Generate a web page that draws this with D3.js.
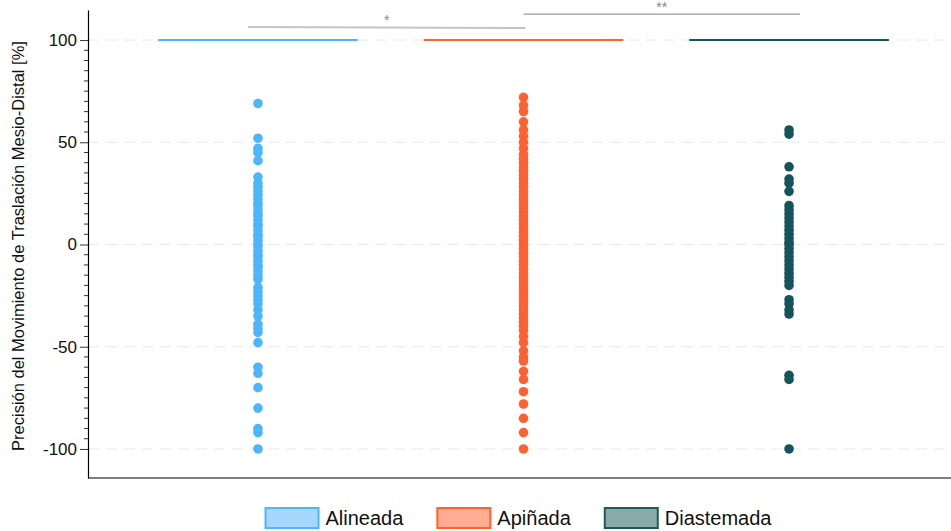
<!DOCTYPE html>
<html>
<head>
<meta charset="utf-8">
<script src="https://cdn.jsdelivr.net/npm/d3@7"></script>
<style>
  html, body { margin: 0; padding: 0; background: #ffffff; }
  svg { display: block; font-family: "Liberation Sans", Arial, Helvetica, sans-serif; }
</style>
</head>
<body>
<svg id="chart" width="951" height="531"></svg>
<script>
// Groups and their colours
const groups = ["Alineada", "Apiñada", "Diastemada"];
const pointColors = ["#4db6fa", "#ff6131", "#15545b"];
const legendFills = ["#a6d7fc", "#ffac92", "#88aaa9"];

// Precision of the mesio-distal translation per tooth [%]
const alineada = [69, 52, 47, 45, 41, 33, 30, 28, 26, 24, 22, 20, 19, 17, 15, 14, 12, 10, 9, 7, 5, 4, 2, 0,
  -1, -3, -5, -6, -8, -10, -11, -13, -15, -17, -21, -23, -25, -27, -29, -32, -35, -39, -41, -43,
  -48, -60, -63, -70, -80, -90, -92, -100];
const apinada = [72, 68, 65, 60, 56, 53, 50, 47, 44, 42, 40, 38, 36, 34, 32, 30, 28, 26, 24, 22, 20, 18,
  16, 14, 12, 10, 8, 6, 4, 2, 0, -2, -4, -6, -8, -10, -12, -14, -16, -18, -20, -22, -24, -26, -28,
  -30, -32, -34, -36, -38, -40, -42, -45, -48, -52, -55, -57, -62, -66, -72, -78, -85, -92, -100];
const diastemada = [56, 54, 38, 32, 30, 26, 19, 17, 15, 13, 11, 9, 7, 5, 3, 1, 0, -2, -4, -6, -8, -10,
  -12, -14, -16, -18, -20, -27, -29, -32, -34, -64, -66, -100];
const seriesValues = [alineada, apinada, diastemada];

// Reference level drawn as a horizontal bar per group
const refLevel = [100, 100, 100];

// Pairwise comparisons: from group, to group, height, label
const compFrom = ["Alineada", "Apiñada"];
const compTo = ["Apiñada", "Diastemada"];
const compY = [106.4, 112.7];
const compLabels = ["*", "**"];

// Y axis ticks
const majorTicks = [-100, -50, 0, 50, 100];
const tickLabels = ["-100", "-50", "0", "50", "100"];
const minorTicks = d3.range(-100, 101, 5).filter(v => v % 50 !== 0);
const axisTitle = "Precisión del Movimiento de Traslación Mesio-Distal [%]";

const svg = d3.select("#chart");
const panel = { left: 88, right: 951, top: 10, bottom: 478 };

const x = d3.scalePoint()
  .domain(groups)
  .range([92, 955])
  .padding(0.625);
const step = x.step();

const y = d3.scaleLinear()
  .domain([-114.2, 114.7])
  .range([panel.bottom, panel.top]);

// Dashed horizontal grid at major ticks
svg.append("g")
  .selectAll("line")
  .data(majorTicks)
  .join("line")
  .attr("x1", panel.left)
  .attr("x2", panel.right)
  .attr("y1", d => y(d))
  .attr("y2", d => y(d))
  .attr("stroke", "#e9e9e9")
  .attr("stroke-width", 1)
  .attr("stroke-dasharray", "11,7");

// Reference bars at 100 %
svg.append("g")
  .selectAll("line")
  .data(groups)
  .join("line")
  .attr("x1", d => x(d) - step * 0.376)
  .attr("x2", d => x(d) + step * 0.376)
  .attr("y1", (d, i) => y(refLevel[i]))
  .attr("y2", (d, i) => y(refLevel[i]))
  .attr("stroke", (d, i) => pointColors[i])
  .attr("stroke-width", 2);

// Points
const pts = [];
groups.forEach((g, i) => seriesValues[i].forEach(v => pts.push({ g, i, v })));
svg.append("g")
  .selectAll("circle")
  .data(pts)
  .join("circle")
  .attr("cx", d => x(d.g))
  .attr("cy", d => y(d.v))
  .attr("r", 4.8)
  .attr("fill", d => pointColors[d.i]);

// Y axis: major ticks with labels
const yAxis = svg.append("g")
  .attr("transform", `translate(${panel.left},0)`)
  .call(d3.axisLeft(y)
    .tickValues(majorTicks)
    .tickFormat((d, i) => tickLabels[i])
    .tickSize(8).tickPadding(3).tickSizeOuter(0));
yAxis.select(".domain").attr("stroke", "#000").attr("stroke-width", 1.2);
yAxis.selectAll(".tick line").attr("stroke", "#333");
yAxis.selectAll(".tick text")
  .attr("font-size", 17)
  .attr("fill", "#111")
  .attr("font-family", "Liberation Sans, Arial, sans-serif");

// Minor ticks
svg.append("g")
  .attr("transform", `translate(${panel.left},0)`)
  .selectAll("line")
  .data(minorTicks)
  .join("line")
  .attr("x1", -4)
  .attr("x2", 0)
  .attr("y1", d => y(d))
  .attr("y2", d => y(d))
  .attr("stroke", "#333");

// Bottom axis line
svg.append("line")
  .attr("x1", panel.left)
  .attr("x2", panel.right)
  .attr("y1", panel.bottom)
  .attr("y2", panel.bottom)
  .attr("stroke", "#000")
  .attr("stroke-width", 1.2);

// Axis title
svg.append("text")
  .attr("transform", `translate(24,246) rotate(-90)`)
  .attr("text-anchor", "middle")
  .attr("font-size", 16.5)
  .attr("fill", "#111")
  .text(axisTitle);

// Comparison brackets
const comp = svg.append("g");
compFrom.forEach((from, i) => {
  const x1 = i === 0 ? x(from) - 10 : x(from);
  const x2 = i === 0 ? x(compTo[i]) + 2 : x(compTo[i]) + 11;
  comp.append("line")
    .attr("x1", x1).attr("x2", x2)
    .attr("y1", y(compY[i])).attr("y2", y(compY[i]) + (i === 0 ? 1 : 0))
    .attr("stroke", i === 0 ? "#c4c4c4" : "#9a9a9a")
    .attr("stroke-width", i === 0 ? 2 : 1.2);
  comp.append("text")
    .attr("x", (x1 + x2) / 2)
    .attr("y", y(compY[i]) - 2)
    .attr("text-anchor", "middle")
    .attr("font-size", 14)
    .attr("fill", "#888")
    .text(compLabels[i]);
});

// Legend
const legend = svg.append("g");
const boxW = 53, boxH = 20, gapText = 7, gapItem = 34;
const items = groups.map((g, i) => {
  const it = legend.append("g");
  it.append("rect")
    .attr("width", boxW).attr("height", boxH)
    .attr("fill", legendFills[i])
    .attr("stroke", pointColors[i] === "#15545b" ? "#1c5a5d" : pointColors[i])
    .attr("stroke-width", 2);
  const t = it.append("text")
    .attr("x", boxW + gapText)
    .attr("y", boxH / 2)
    .attr("dy", "0.36em")
    .attr("font-size", 20)
    .attr("fill", "#111")
    .text(g);
  return { it, w: boxW + gapText + t.node().getComputedTextLength() };
});
const total = d3.sum(items, d => d.w) + gapItem * (items.length - 1);
let cx = (panel.left + panel.right) / 2 - total / 2 - 1;
items.forEach(d => {
  d.it.attr("transform", `translate(${cx},508)`);
  cx += d.w + gapItem;
});
</script>
</body>
</html>
